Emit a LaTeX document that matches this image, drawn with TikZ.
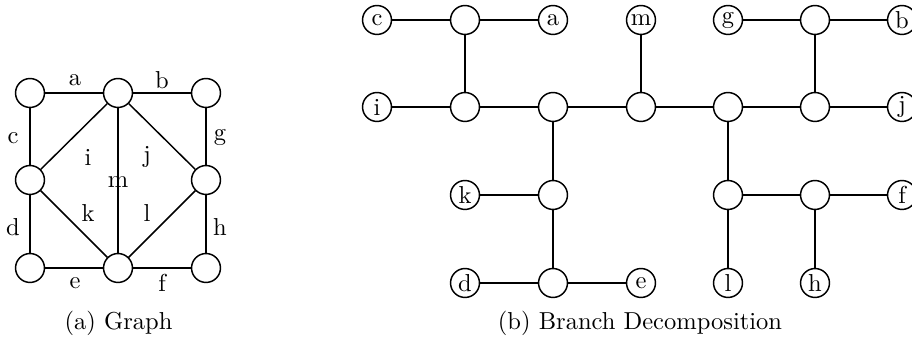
\documentclass[tikz,border=0pt]{standalone}
\begin{document}
\begin{tikzpicture}[x=0.408pt,y=-0.408pt,
  vtx/.style={circle,draw,line width=0.6pt,minimum size=11.8pt,inner sep=0pt,fill=white},
  edge/.style={line width=0.6pt},
  lbl/.style={inner sep=0pt}]
\useasboundingbox (0,0) rectangle (912,337);
% ---------- (a) Graph ----------
\node[vtx] (g11) at (30,93) {};
\node[vtx] (g12) at (118,93) {};
\node[vtx] (g13) at (206,93) {};
\node[vtx] (g21) at (30,180) {};
\node[vtx] (g23) at (206,180) {};
\node[vtx] (g31) at (30,268) {};
\node[vtx] (g32) at (118,268) {};
\node[vtx] (g33) at (206,268) {};
\begin{scope}[on background layer/.style={}]
\draw[edge] (g11) -- (g12);
\draw[edge] (g12) -- (g13);
\draw[edge] (g11) -- (g21);
\draw[edge] (g13) -- (g23);
\draw[edge] (g21) -- (g12);
\draw[edge] (g12) -- (g23);
\draw[edge] (g12) -- (g32);
\draw[edge] (g21) -- (g32);
\draw[edge] (g32) -- (g23);
\draw[edge] (g21) -- (g31);
\draw[edge] (g23) -- (g33);
\draw[edge] (g31) -- (g32);
\draw[edge] (g32) -- (g33);
\end{scope}
\node[lbl] (la) at (75,80) {a};
\node[lbl] (lb) at (162,80) {b};
\node[lbl] (lc) at (13,138) {c};
\node[lbl] (lg) at (220,137) {g};
\node[lbl] (li) at (88,157) {i};
\node[lbl] (lj) at (147,157) {j};
\node[lbl] (lm) at (118,182) {m};
\node[lbl] (lk) at (88,213) {k};
\node[lbl] (ll) at (147,213) {l};
\node[lbl] (ld) at (13,227) {d};
\node[lbl] (lh) at (220,227) {h};
\node[lbl] (le) at (75,283) {e};
\node[lbl] (lf) at (162,283) {f};
\node (capa) at (118.5,323) {(a) Graph};
% ---------- (b) Branch Decomposition ----------
% row 0
\node[vtx] (c) at (377,20) {c};
\node[vtx] (n1) at (465,20) {};
\node[vtx] (a) at (553,20) {a};
\node[vtx] (m) at (641,20) {m};
\node[vtx] (g) at (728,20) {g};
\node[vtx] (n2) at (815,20) {};
\node[vtx] (b) at (902,20) {b};
% row 1
\node[vtx] (i) at (377,107) {i};
\node[vtx] (n3) at (465,107) {};
\node[vtx] (n4) at (553,107) {};
\node[vtx] (n5) at (641,107) {};
\node[vtx] (n6) at (728,107) {};
\node[vtx] (n7) at (815,107) {};
\node[vtx] (j) at (902,107) {j};
% row 2
\node[vtx] (k) at (465,195) {k};
\node[vtx] (n8) at (553,195) {};
\node[vtx] (n9) at (728,195) {};
\node[vtx] (n10) at (815,195) {};
\node[vtx] (f) at (902,195) {f};
% row 3
\node[vtx] (d) at (465,283) {d};
\node[vtx] (n11) at (553,283) {};
\node[vtx] (e) at (641,283) {e};
\node[vtx] (l) at (728,283) {l};
\node[vtx] (h) at (815,283) {h};
% edges
\draw[edge] (c) -- (n1);
\draw[edge] (n1) -- (a);
\draw[edge] (n1) -- (n3);
\draw[edge] (i) -- (n3);
\draw[edge] (n3) -- (n4);
\draw[edge] (n4) -- (n5);
\draw[edge] (n5) -- (n6);
\draw[edge] (n6) -- (n7);
\draw[edge] (n7) -- (j);
\draw[edge] (m) -- (n5);
\draw[edge] (g) -- (n2);
\draw[edge] (n2) -- (b);
\draw[edge] (n2) -- (n7);
\draw[edge] (n4) -- (n8);
\draw[edge] (k) -- (n8);
\draw[edge] (n8) -- (n11);
\draw[edge] (d) -- (n11);
\draw[edge] (n11) -- (e);
\draw[edge] (n6) -- (n9);
\draw[edge] (n9) -- (l);
\draw[edge] (n9) -- (n10);
\draw[edge] (n10) -- (f);
\draw[edge] (n10) -- (h);
\node (capb) at (640,323) {(b) Branch Decomposition};
\end{tikzpicture}
\end{document}
